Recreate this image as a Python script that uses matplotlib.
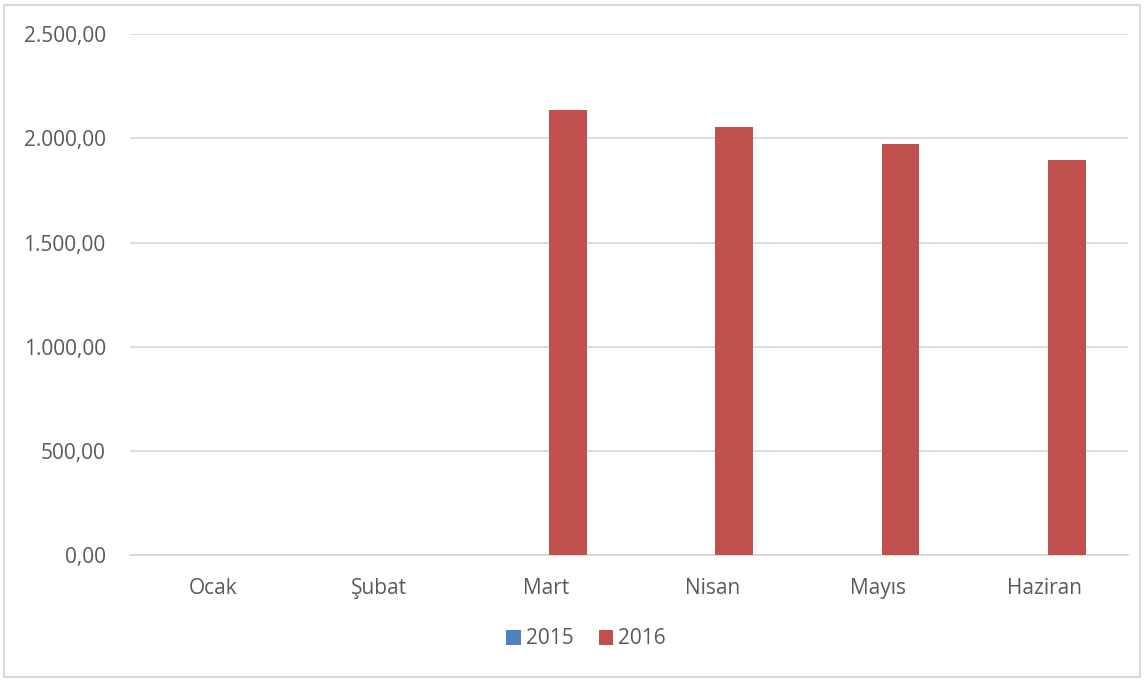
import matplotlib.pyplot as plt
from matplotlib.patches import Rectangle
from matplotlib.ticker import FuncFormatter
import numpy as np

plt.rcParams['font.family'] = ['Open Sans', 'DejaVu Sans']

months = ["Ocak", "Şubat", "Mart", "Nisan", "Mayıs", "Haziran"]
y2015 = [0, 0, 0, 0, 0, 0]
y2016 = [0, 0, 2138, 2056, 1973, 1896]
series_names = ["2015", "2016"]

blue = "#4F81BD"
red = "#C0504D"
text_col = "#595959"
grid_col = "#D9D9D9"

fig = plt.figure(figsize=(11.45, 6.8), dpi=100)
ax = fig.add_axes([130 / 1145, 1 - 555 / 680, 998 / 1145, (555 - 34.3) / 680])

x = np.arange(len(months))
w = 0.225
off = 0.02 + w / 2
ax.bar(x - off, y2015, w, color=blue, label=series_names[0], zorder=3)
ax.bar(x + off, y2016, w, color=red, label=series_names[1], zorder=3)

ax.set_xlim(-0.5, len(months) - 0.5)
ax.set_ylim(0, 2500)
ax.set_yticks(np.arange(0, 2501, 500))
ax.yaxis.set_major_formatter(FuncFormatter(
    lambda v, p: f"{v:,.2f}".replace(",", "X").replace(".", ",").replace("X", ".")))
ax.set_xticks(x)
ax.set_xticklabels(months)

ax.grid(axis="y", color=grid_col, linewidth=1.3, zorder=0)
for s in ["top", "right", "left"]:
    ax.spines[s].set_visible(False)
ax.spines["bottom"].set_color(grid_col)
ax.spines["bottom"].set_linewidth(1.3)
ax.tick_params(axis="both", length=0, labelsize=15, colors=text_col)
ax.tick_params(axis="y", pad=17.5)
ax.tick_params(axis="x", pad=16.5)

leg = fig.legend(loc="center", bbox_to_anchor=(586 / 1145, 1 - 639 / 680), ncol=2,
                 frameon=False, fontsize=15, handlelength=0.7, handleheight=0.7,
                 handletextpad=0.25, columnspacing=1.2, labelcolor=text_col)

fig.patches.append(Rectangle((4 / 1145, 3 / 680), 1136 / 1145, 672 / 680,
                             transform=fig.transFigure, fill=False,
                             edgecolor=grid_col, linewidth=1.5))

fig.savefig("out.png", dpi=100)
